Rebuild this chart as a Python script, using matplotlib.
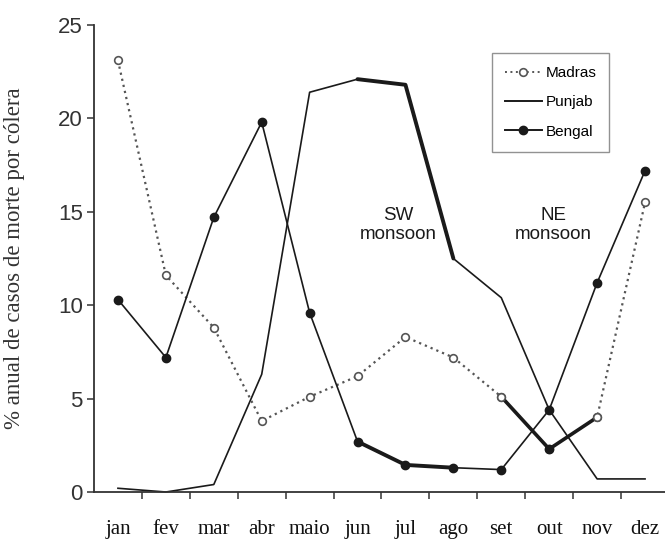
import matplotlib
matplotlib.use("Agg")
import matplotlib.pyplot as plt
from matplotlib.lines import Line2D

months = ["jan", "fev", "mar", "abr", "maio", "jun", "jul", "ago", "set", "out", "nov", "dez"]
madras = [23.1, 11.6, 8.8, 3.8, 5.1, 6.2, 8.3, 7.2, 5.1, 2.3, 4.0, 15.5]
punjab = [0.2, 0.0, 0.4, 6.3, 21.4, 22.1, 21.8, 12.5, 10.4, 4.4, 0.7, 0.7]
bengal = [10.3, 7.2, 14.7, 19.8, 9.6, 2.7, 1.45, 1.3, 1.2, 4.4, 11.2, 17.2]
yticks = [0, 5, 10, 15, 20, 25]
ylabel = "% anual de casos de morte por cólera"
legend_labels = ["Madras", "Punjab", "Bengal"]
notes = ["SW\nmonsoon", "NE\nmonsoon"]

x = list(range(len(months)))
ink = "#1a1a1a"
grey = "#555555"
serif = ["Liberation Serif", "DejaVu Serif"]
sans = ["Liberation Sans", "DejaVu Sans"]

fig = plt.figure(figsize=(6.65, 5.4), dpi=100)
ax = fig.add_axes([94 / 665, 1 - 492 / 540, 575 / 665, 467 / 540])

# Madras: dotted with open circles, thick solid during NE monsoon (set-nov)
ax.plot(x, madras, linestyle=(0, (1, 1.8)), color=grey, lw=1.6, marker="o", ms=5.5,
        mfc="white", mec=grey, mew=1.2, zorder=3, clip_on=False)
ax.plot(x[8:11], madras[8:11], color=ink, lw=2.6, zorder=4, solid_capstyle="round")
ax.plot([x[8], x[10]], [madras[8], madras[10]], linestyle="none", marker="o", ms=5.5,
        mfc="white", mec=grey, mew=1.2, zorder=5)
ax.plot([x[9]], [madras[9]], linestyle="none", marker="o", ms=6, mfc=ink, mec=ink, zorder=5)

# Punjab: solid line, thick during SW monsoon (jun-ago)
ax.plot(x, punjab, color=ink, lw=1.2, zorder=2, clip_on=False)
ax.plot(x[5:8], punjab[5:8], color=ink, lw=2.8, zorder=2, solid_capstyle="round")

# Bengal: solid with filled dots, thick during SW monsoon (jun-ago)
ax.plot(x, bengal, color=ink, lw=1.2, marker="o", ms=6, mfc=ink, mec=ink, zorder=3,
        clip_on=False)
ax.plot(x[5:8], bengal[5:8], color=ink, lw=2.8, zorder=3, solid_capstyle="round")

ax.text(5.85, 14.3, notes[0], ha="center", va="center", fontsize=13.5, family=sans,
        color=ink, linespacing=1.1)
ax.text(9.08, 14.3, notes[1], ha="center", va="center", fontsize=13.5, family=sans,
        color=ink, linespacing=1.1)

ax.set_xlim(-0.5, 11.5)
ax.set_ylim(0, 25)
for s in ["top", "right"]:
    ax.spines[s].set_visible(False)
for s in ["left", "bottom"]:
    ax.spines[s].set_color("#333333")
    ax.spines[s].set_linewidth(1.3)

ax.set_yticks(yticks)
ax.set_yticklabels([str(v) for v in yticks], fontsize=16, family=sans, color="#222222")
ax.tick_params(axis="y", direction="out", length=5, width=1.1, pad=3, colors="#333333")

ax.set_xticks([i + 0.5 for i in x])
ax.set_xticklabels([])
ax.tick_params(axis="x", which="major", direction="out", length=5, width=1.1, colors="#333333")
ax.set_xticks(x, minor=True)
ax.set_xticklabels(months, minor=True, fontsize=15, family=serif, color="#111111")
ax.tick_params(axis="x", which="minor", length=0, pad=20)

ax.set_ylabel(ylabel, fontsize=16.5, family=serif, color="#333333")
ax.yaxis.set_label_coords(-0.12, 0.5)

handles = [
    Line2D([], [], linestyle=(0, (1, 1.8)), color=grey, lw=1.4, marker="o", ms=5.5,
           mfc="white", mec=grey, mew=1.2),
    Line2D([], [], color=ink, lw=1.4),
    Line2D([], [], color=ink, lw=1.4, marker="o", ms=6, mfc=ink, mec=ink),
]
leg = fig.legend(handles, legend_labels, loc="upper left",
                 bbox_to_anchor=(492 / 665, 1 - 53 / 540),
                 prop={"family": sans, "size": 11}, frameon=True, fancybox=False,
                 edgecolor="#777777", handlelength=2.4, handletextpad=0.25,
                 labelspacing=1.0, borderpad=0.85, borderaxespad=0, markerscale=1.0)
leg.get_frame().set_linewidth(1.0)

fig.savefig("out.png", dpi=100)
